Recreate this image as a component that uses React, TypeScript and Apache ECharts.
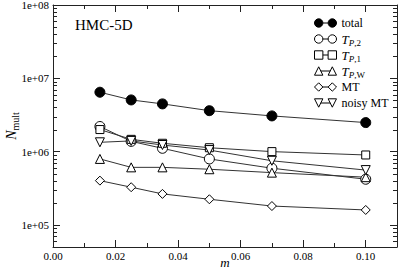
import React, { useEffect, useRef } from "react";
import * as echarts from "echarts";

const FONT = "Liberation Serif";

const mValues = [0.015, 0.025, 0.035, 0.05, 0.07, 0.1];
const totalValues = [6.46e6, 5.07e6, 4.48e6, 3.62e6, 3.07e6, 2.49e6];
const tp2Values = [2.2e6, 1.38e6, 1.11e6, 7.95e5, 5.94e5, 4.2e5];
const tp1Values = [2.0e6, 1.47e6, 1.3e6, 1.13e6, 1.0e6, 9.0e5];
const tpwValues = [7.95e5, 6.1e5, 6.1e5, 5.75e5, 5.17e5, 4.48e5];
const mtValues = [4.02e5, 3.27e5, 2.65e5, 2.24e5, 1.81e5, 1.6e5];
const noisyMtValues = [1.34e6, 1.4e6, 1.23e6, 1.05e6, 7.5e5, 5.6e5];

const X_MIN = 0;
const X_MAX = 0.11;
const X_INTERVAL = 0.02;
const Y_MIN = 5e4;
const Y_MAX = 1e8;
const xMinorTickValues = [0.01, 0.03, 0.05, 0.07, 0.09];
const yMinorMultipliers = [2, 3, 4, 5, 6, 7, 8, 9];
const yDecades = [1e4, 1e5, 1e6, 1e7];

const ICON_CIRCLE =
  "path://M0.5,4.5 A4,4 0 1,1 8.5,4.5 A4,4 0 1,1 0.5,4.5 Z M8.5,4.5 L13.5,4.5 M13.5,4.5 A4,4 0 1,1 21.5,4.5 A4,4 0 1,1 13.5,4.5 Z";
const ICON_SQUARE =
  "path://M0.5,0.5 L8.5,0.5 L8.5,8.5 L0.5,8.5 Z M8.5,4.5 L13.5,4.5 M13.5,0.5 L21.5,0.5 L21.5,8.5 L13.5,8.5 Z";
const ICON_TRI_UP =
  "path://M0.5,8.5 L4.5,0.5 L8.5,8.5 Z M6.5,4.5 L15.5,4.5 M13.5,8.5 L17.5,0.5 L21.5,8.5 Z";
const ICON_DIAMOND =
  "path://M0.5,4.5 L4.5,0.5 L8.5,4.5 L4.5,8.5 Z M8.5,4.5 L13.5,4.5 M13.5,4.5 L17.5,0.5 L21.5,4.5 L17.5,8.5 Z";
const ICON_TRI_DOWN =
  "path://M0.5,0.5 L8.5,0.5 L4.5,8.5 Z M6.5,4.5 L15.5,4.5 M13.5,0.5 L21.5,0.5 L17.5,8.5 Z";

const seriesDefs = [
  { name: "total", values: totalValues, symbol: "circle", size: 10, rotate: 0, fill: "#000", icon: ICON_CIRCLE },
  { name: "T_P,2", values: tp2Values, symbol: "circle", size: 10, rotate: 0, fill: "#fff", icon: ICON_CIRCLE },
  { name: "T_P,1", values: tp1Values, symbol: "rect", size: 8, rotate: 0, fill: "#fff", icon: ICON_SQUARE },
  { name: "T_P,W", values: tpwValues, symbol: "triangle", size: 9, rotate: 0, fill: "#fff", icon: ICON_TRI_UP },
  { name: "MT", values: mtValues, symbol: "diamond", size: 9, rotate: 0, fill: "#fff", icon: ICON_DIAMOND },
  { name: "noisy MT", values: noisyMtValues, symbol: "triangle", size: 9, rotate: 180, fill: "#fff", icon: ICON_TRI_DOWN },
];

const legendLabels: Record<string, string> = {
  total: "total",
  "T_P,2": "{T|T}{si|P}{s|,2}",
  "T_P,1": "{T|T}{si|P}{s|,1}",
  "T_P,W": "{T|T}{si|P}{s|,W}",
  MT: "MT",
  "noisy MT": "noisy MT",
};

const AX = "#222";

export default function App() {
  const ref = useRef<HTMLDivElement>(null);
  useEffect(() => {
    if (!ref.current) return;
    const chart = echarts.init(ref.current, undefined, { renderer: "svg" });

    const tickData: number[][] = [];
    yDecades.forEach((d) =>
      yMinorMultipliers.forEach((k) => {
        const v = k * d;
        if (v > Y_MIN && v < Y_MAX) {
          tickData.push([X_MIN, v, 0]);
          tickData.push([X_MAX, v, 1]);
        }
      })
    );
    xMinorTickValues.forEach((v) => {
      tickData.push([v, Y_MIN, 2]);
      tickData.push([v, Y_MAX, 3]);
    });

    const xLabelFmt = (v: number) => {
      const r = v / X_INTERVAL;
      if (Math.abs(r - Math.round(r)) > 1e-6) return "";
      return v.toFixed(2);
    };
    const yLabelFmt = (v: number) => {
      const e = Math.log10(v);
      if (Math.abs(e - Math.round(e)) > 1e-6) return "";
      return "1e+" + String(Math.round(e)).padStart(2, "0");
    };

    const baseX = {
      type: "value" as const,
      min: X_MIN,
      max: X_MAX,
      interval: X_INTERVAL,
      splitLine: { show: false },
      axisLine: { show: true, onZero: false, lineStyle: { color: AX, width: 1 } },
      axisTick: { show: true, inside: true, length: 7, lineStyle: { color: AX, width: 1 } },
    };
    const baseY = {
      type: "log" as const,
      logBase: 10,
      min: Y_MIN,
      max: Y_MAX,
      splitLine: { show: false },
      axisLine: { show: true, onZero: false, lineStyle: { color: AX, width: 1 } },
      axisTick: { show: true, inside: true, length: 7, lineStyle: { color: AX, width: 1 } },
    };

    chart.setOption({
      animation: false,
      backgroundColor: "#fff",
      textStyle: { fontFamily: FONT },
      title: {
        text: "HMC-5D",
        left: 70,
        top: 12,
        textStyle: { fontFamily: FONT, fontSize: 15, fontWeight: "normal", color: "#000" },
      },
      grid: { left: 53, right: 2, top: 5, bottom: 22, containLabel: false, outerBoundsMode: "none" },
      legend: {
        orient: "vertical",
        left: 309,
        top: 10,
        itemWidth: 22,
        itemHeight: 9,
        itemGap: 0,
        itemStyle: { borderColor: "#000", borderWidth: 1 },
        data: seriesDefs.map((s) => ({
          name: s.name,
          icon: s.icon,
          itemStyle: { color: s.fill, borderColor: "#000", borderWidth: 1 },
        })),
        formatter: (name: string) => legendLabels[name] ?? name,
        textStyle: {
          fontFamily: FONT,
          fontSize: 12,
          color: "#000",
          lineHeight: 16,
          rich: {
            T: { fontFamily: FONT, fontSize: 13, fontStyle: "italic", lineHeight: 16, color: "#000" },
            si: { fontFamily: FONT, fontSize: 9, fontStyle: "italic", lineHeight: 9, verticalAlign: "bottom", color: "#000" },
            s: { fontFamily: FONT, fontSize: 9, lineHeight: 9, verticalAlign: "bottom", color: "#000" },
          },
        },
      },
      xAxis: [
        {
          ...baseX,
          position: "bottom",
          name: "m",
          nameLocation: "middle",
          nameGap: 9,
          nameMoveOverlap: false,
          nameTextStyle: { fontFamily: FONT, fontStyle: "italic", fontSize: 13, color: "#000" },
          axisLabel: { show: true, margin: 3, fontFamily: FONT, fontSize: 11, color: "#000", formatter: xLabelFmt },
        },
        { ...baseX, position: "top", axisLabel: { show: false } },
      ],
      yAxis: [
        {
          ...baseY,
          position: "left",
          name: "{N|N}{s|mult}",
          nameLocation: "middle",
          nameGap: 33,
          nameMoveOverlap: false,
          nameTextStyle: {
            color: "#000",
            rich: {
              N: { fontFamily: FONT, fontSize: 14, fontStyle: "italic", lineHeight: 18, color: "#000" },
              s: { fontFamily: FONT, fontSize: 10, lineHeight: 10, verticalAlign: "bottom", color: "#000" },
            },
          },
          axisLabel: { show: true, margin: 4, fontFamily: FONT, fontSize: 11, color: "#000", formatter: yLabelFmt },
        },
        { ...baseY, position: "right", axisLabel: { show: false } },
      ],
      series: [
        {
          type: "custom",
          name: "ticks",
          silent: true,
          clip: false,
          xAxisIndex: 0,
          yAxisIndex: 0,
          data: tickData,
          z: 1,
          renderItem: (_params: any, api: any) => {
            const side = api.value(2);
            const p = api.coord([api.value(0), api.value(1)]);
            const len = 4;
            let x1 = p[0], y1 = p[1], x2 = p[0], y2 = p[1];
            if (side === 0 || side === 1) {
              y1 = y2 = Math.round(p[1]) + 0.5;
              x2 = side === 0 ? p[0] + len : p[0] - len;
            } else {
              x1 = x2 = Math.round(p[0]) + 0.5;
              y2 = side === 2 ? p[1] - len : p[1] + len;
            }
            return {
              type: "line",
              shape: { x1, y1, x2, y2 },
              style: { stroke: AX, lineWidth: 1 },
            };
          },
        },
        ...seriesDefs.map((s) => ({
          type: "line",
          name: s.name,
          data: mValues.map((m, i) => [m, s.values[i]]),
          symbol: s.symbol,
          symbolSize: s.size,
          symbolRotate: s.rotate,
          showSymbol: true,
          lineStyle: { color: "#333", width: 1 },
          itemStyle: { color: s.fill, borderColor: "#000", borderWidth: 1 },
          z: 3,
        })),
      ],
    });

    return () => chart.dispose();
  }, []);

  return (
    <div
      ref={ref}
      style={{ position: "fixed", left: 0, top: 0, width: 399, height: 269, background: "#fff" }}
    />
  );
}
